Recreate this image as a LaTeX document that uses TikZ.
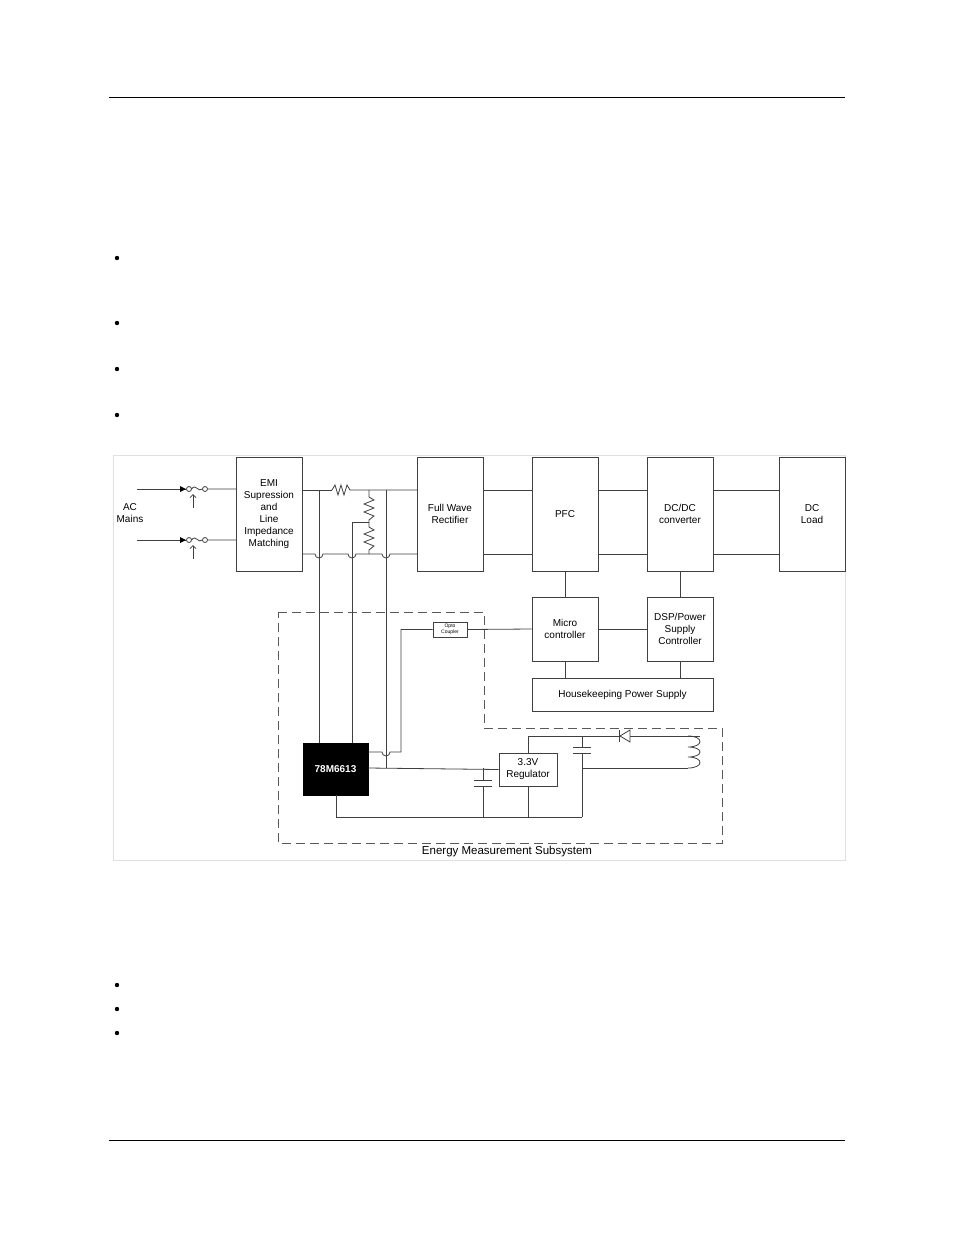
\documentclass[tikz,border=0pt]{standalone}
\usepackage{fontspec}
\setmainfont{Liberation Sans}
\usetikzlibrary{arrows.meta}
\begin{document}
\begin{tikzpicture}[x=1pt,y=-1pt,
  blk/.style={draw=black!75,line width=0.8pt,fill=white,align=center,font=\fontsize{10}{12}\selectfont},
  wire/.style={draw=black!75,line width=0.8pt},
  dsh/.style={draw=black!65,line width=1pt,dash pattern=on 9pt off 5pt}]
\useasboundingbox (0,0) rectangle (954,1235);
\fill[white] (0,0) rectangle (954,1235);
% page
\draw[line width=0.8pt] (109,97) -- (845,97);
\draw[line width=0.8pt] (109,1140) -- (845,1140);
\foreach \y in {258,323,369,415} \fill (117,\y) circle (2.2);
\foreach \y in {985,1009,1033} \fill (117,\y) circle (2.2);
\draw[black!12] (113,455) rectangle (845,860);
% dashed subsystem
\draw[dsh] (278,612) -- (484,612) -- (484,728) -- (722,728) -- (722,843) -- (278,843) -- cycle;
\node[font=\fontsize{11.5}{13}\selectfont] (lbl) at (507,852) {Energy Measurement Subsystem};
% main lines
\draw[wire] (302,490) -- (332,490);
\draw[wire] (332,490) -- (335,485) -- (338,495) -- (341,485) -- (344,495) -- (347,485) -- (350,490) -- (417,490);
\draw[wire] (483,490) -- (532,490) (598,490) -- (647,490) (713,490) -- (779,490);
\draw[wire] (483,554) -- (532,554) (598,554) -- (647,554) (713,554) -- (779,554);
\draw[wire] (302,554) -- (315,554) arc (180:0:4) -- (348,554) arc (180:0:4) -- (382,554) arc (180:0:4) -- (417,554);
% divider
\draw[wire] (369,490) -- (369,497) -- (374,500) -- (364,504) -- (374,508) -- (364,512) -- (374,516) -- (369,520) -- (369,527)
 -- (374,530) -- (364,534) -- (374,538) -- (364,542) -- (374,546) -- (369,550) -- (369,554);
\draw[wire] (369,522) -- (352,522) -- (352,743);
\draw[wire] (319,490) -- (319,743);
\draw[wire] (386,490) -- (386,768);
% boxes
\node[blk,minimum width=66pt,minimum height=114pt] (emi) at (269,514) {EMI\\Supression\\and\\Line\\Impedance\\Matching};
\node[blk,minimum width=66pt,minimum height=114pt] (fwr) at (450,514) {Full Wave\\Rectifier};
\node[blk,minimum width=66pt,minimum height=114pt] (pfc) at (565,514) {PFC};
\node[blk,minimum width=66pt,minimum height=114pt] (dcdc) at (680,514) {DC/DC\\converter};
\node[blk,minimum width=66pt,minimum height=114pt] (load) at (812,514) {DC\\Load};
\node[blk,minimum width=66pt,minimum height=64pt] (mc) at (565,629) {Micro\\controller};
\node[blk,minimum width=66pt,minimum height=64pt] (dsp) at (680,629) {DSP/Power\\Supply\\Controller};
\node[blk,minimum width=181pt,minimum height=33pt] (hk) at (622.5,694.5) {Housekeeping Power Supply};
\node[blk,minimum width=34pt,minimum height=15pt,inner sep=0pt,font=\fontsize{5}{5.5}\selectfont] (opto) at (450,629.5) {Opto\\Coupler};
\node[fill=black,draw=black,minimum width=65pt,minimum height=52pt,text=white,font=\bfseries\fontsize{10}{12}\selectfont] (chip) at (335.5,769) {78M6613};
\node[blk,minimum width=58pt,minimum height=33pt,inner sep=1pt] (reg) at (528,769.5) {3.3V\\Regulator};
% block connectors
\draw[wire] (pfc.south) -- (mc.north);
\draw[wire] (dcdc.south) -- (dsp.north);
\draw[wire] (mc.east) -- (dsp.west);
\draw[wire] (mc.south) -- (mc.south|-hk.north);
\draw[wire] (dsp.south) -- (dsp.south|-hk.north);
\draw[wire] (opto.east) -- (mc.west);
\draw[wire] (368,752) -- (382,752) arc (180:0:4) -- (401,752) -- (401,629.5) -- (opto.west);
\draw[wire] (368,768) -- (reg.west);
% fuses
\foreach \y in {489,540}{
  \draw[wire] (137,\y) -- (186,\y);
  \fill[black] (180,\y-3) -- (186,\y) -- (180,\y+3) -- cycle;
  \draw[wire] (189,\y) circle (2.5);
  \draw[wire] (191.5,\y) .. controls (196,\y-6) and (198,\y+4) .. (202.5,\y);
  \draw[wire] (205,\y) circle (2.5) (207.5,\y) -- (236,\y);
  \draw[wire,-{Straight Barb[length=3pt]}] (193,\y+19) -- (193,\y+5);
}
\node[align=center,font=\fontsize{10}{12}\selectfont] (ac) at (130,513) {AC\\Mains};
% bottom circuit
\draw[wire] (336,795) -- (336,817) -- (582,817);
\draw[wire] (483,768) -- (483,780) (483,786) -- (483,817);
\draw[wire] (474,780) -- (492,780) (474,786) -- (492,786);
\draw[wire] (528,786) -- (528,817);
\draw[wire] (reg.north) -- (528,736) -- (700,736);
\draw[wire] (582,736) -- (582,747) (582,753) -- (582,817);
\draw[wire] (573,747) -- (591,747) (573,753) -- (591,753);
\draw[wire,fill=white] (630,730) -- (630,742) -- (620,736) -- cycle;
\draw[wire] (619,730) -- (619,742);
\draw[wire] (582,768) -- (688,768);
\draw[wire] (688,736) .. controls (704,736) and (704,747) .. (688,747)
  .. controls (704,747) and (704,757) .. (688,757) .. controls (704,757) and (704,768) .. (688,768);
\end{tikzpicture}
\end{document}
